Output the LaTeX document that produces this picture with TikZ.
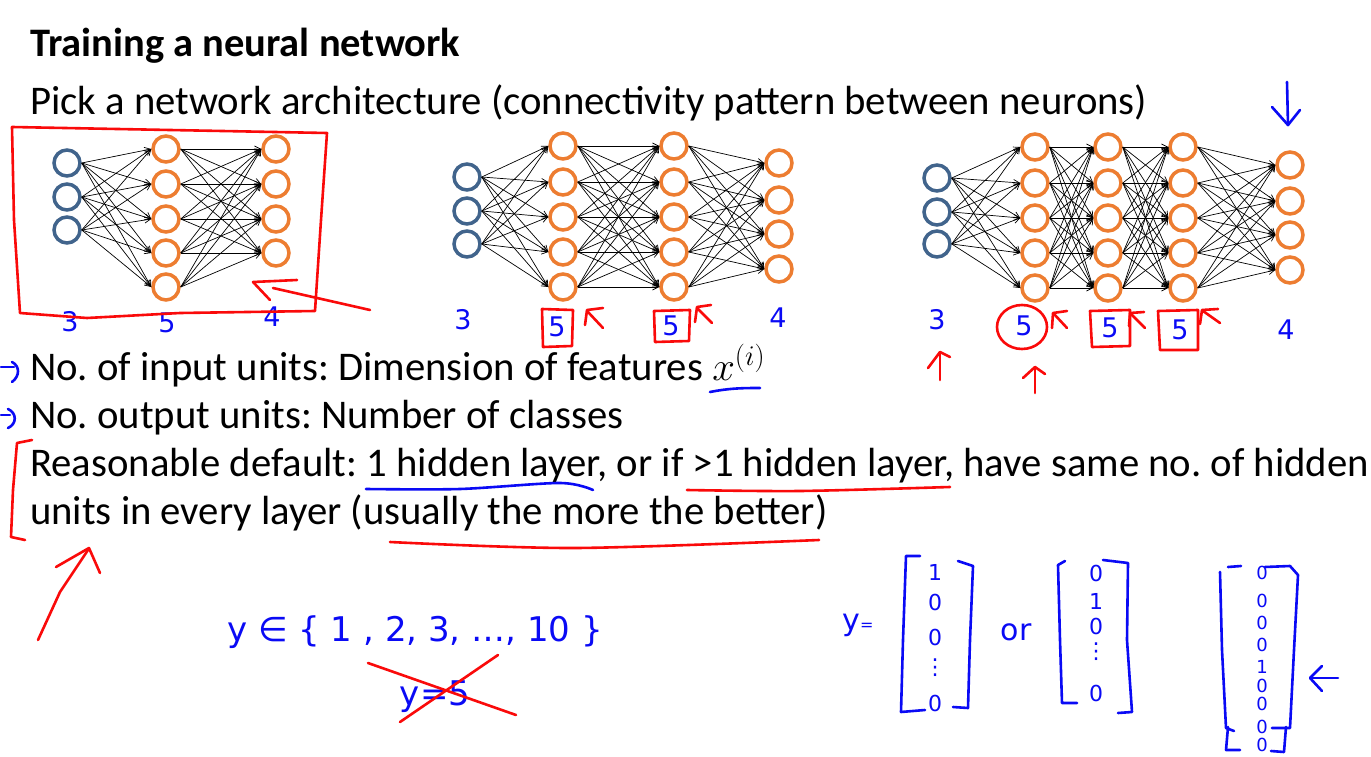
\RequirePackage{fix-cm}
\documentclass[tikz,border=0pt]{standalone}
\usepackage{fontspec}
\setmainfont{Carlito}
\newfontfamily\penfont{DejaVu Sans}
\usetikzlibrary{arrows.meta}
\definecolor{unitblue}{RGB}{65,100,140}
\definecolor{unitorange}{RGB}{237,125,49}
\definecolor{penblue}{RGB}{10,10,245}
\definecolor{penred}{RGB}{250,10,10}
\tikzset{
  % units of the networks
  inunit/.style    = {circle, draw=unitblue, line width=3.5pt, minimum size=26pt, inner sep=0pt},
  hidunit/.style   = {circle, draw=unitorange, line width=3.5pt, minimum size=26pt, inner sep=0pt},
  conn/.style      = {-{Straight Barb[length=6pt,width=6pt]}, line width=0.7pt, black},
  % slide text
  slidetitle/.style= {anchor=base west, inner sep=0pt, font=\fontsize{40.5}{48}\selectfont\bfseries},
  slidetext/.style = {anchor=base west, inner sep=0pt, font=\fontsize{40.7}{48}\selectfont\frenchspacing},
  % pen marks
  bluepen/.style   = {penblue, line width=2.6pt, line cap=round, line join=round},
  redpen/.style    = {penred, line width=2.6pt, line cap=round, line join=round},
  penlabel/.style  = {penblue, inner sep=0pt, font=\penfont\fontsize{27}{28}\selectfont},
  penentry/.style  = {penblue, inner sep=0pt, font=\penfont\fontsize{22}{22}\selectfont},
}
\newcommand\linklayers[4]{%
  \foreach \p in {1,...,#2}{\foreach \q in {1,...,#4}{\draw[conn] (#1\p.east) -- (#3\q.west);}}}

\begin{document}
\begin{tikzpicture}[x=1pt,y=-1pt]
  \useasboundingbox[fill=white] (0,0) rectangle (1371,757);
  % Titles
  \node[slidetitle] (title) at (30,57) {Training a neural network};
  \node[slidetext] (pick) at (30,115) {Pick a network architecture (connectivity pattern between neurons)};

  % Network 3-5-4
  \foreach \i/\y in {1/163,2/197,3/230} \node[inunit] (pa\i) at (67,\y) {};
  \foreach \i/\y in {1/149,2/184,3/219,4/253,5/287} \node[hidunit] (pb\i) at (166,\y) {};
  \foreach \i/\y in {1/149,2/184,3/219,4/253} \node[hidunit] (pc\i) at (276,\y) {};
  \linklayers{pa}{3}{pb}{5}
  \linklayers{pb}{5}{pc}{4}
  \node[penlabel] (pal) at (70,322) {3};
  \node[penlabel] (pbl) at (167,323) {5};
  \node[penlabel] (pcl) at (272,317) {4};

  % Network 3-5-5-4
  \foreach \i/\y in {1/177,2/211,3/244} \node[inunit] (qa\i) at (467,\y) {};
  \foreach \i/\y in {1/146,2/182,3/217,4/252,5/287} {
    \node[hidunit] (qb\i) at (563,\y) {};
    \node[hidunit] (qc\i) at (674,\y) {};
  }
  \foreach \i/\y in {1/163,2/200,3/234,4/269} \node[hidunit] (qd\i) at (779,\y) {};
  \linklayers{qa}{3}{qb}{5}
  \linklayers{qb}{5}{qc}{5}
  \linklayers{qc}{5}{qd}{4}
  \node[penlabel] (qal) at (463,320) {3};
  \node[penlabel] (qbl) at (557,327) {5};
  \node[penlabel] (qcl) at (671,326) {5};
  \node[penlabel] (qdl) at (778,318) {4};

  % Network 3-5-5-5-4
  \foreach \i/\y in {1/178,2/212,3/244} \node[inunit] (ra\i) at (937,\y) {};
  \foreach \i/\y in {1/147,2/183,3/218,4/253,5/288} {
    \node[hidunit] (rb\i) at (1035,\y) {};
    \node[hidunit] (rc\i) at (1108,\y) {};
    \node[hidunit] (rd\i) at (1183,\y) {};
  }
  \foreach \i/\y in {1/165,2/201,3/235,4/270} \node[hidunit] (re\i) at (1290,\y) {};
  \linklayers{ra}{3}{rb}{5}
  \linklayers{rb}{5}{rc}{5}
  \linklayers{rc}{5}{rd}{5}
  \linklayers{rd}{5}{re}{4}
  \node[penlabel] (ral) at (937,320) {3};
  \node[penlabel] (rbl) at (1024,326) {5};
  \node[penlabel] (rcl) at (1110,328) {5};
  \node[penlabel] (rdl) at (1180,330) {5};
  \node[penlabel] (rel) at (1286,330) {4};

  % Bullet lines
  \node[slidetext] (inunits) at (30,380) {No. of input units: Dimension of features $x^{(i)}$};
  \node[slidetext] (outunits) at (30,428) {No. output units: Number of classes};
  \node[slidetext] (default) at (30,476) {Reasonable default: 1 hidden layer, or if >1 hidden layer, have same no. of hidden};
  \node[slidetext] (defaulttwo) at (30,524) {units in every layer (usually the more the better)};

  % Red pen marks on the networks
  \draw[redpen] (12,127) -- (170,130) -- (327,133) -- (321,220) -- (315,311)
    -- (180,313) -- (87,318) -- (20,313) -- (14,220) -- cycle;
  \draw[redpen] (370,310) -- (273,288);
  \draw[redpen] (297,280) -- (253,282) -- (270,300);
  \draw[redpen] (542,309) -- (573,310) -- (572,346) -- (543,347) -- cycle;
  \draw[redpen] (603,328) -- (588,312);
  \draw[redpen] (585,325) -- (587,310) -- (603,308);
  \draw[redpen] (654,311) -- (690,310) -- (689,341) -- (655,342) -- cycle;
  \draw[redpen] (712,323) -- (697,308);
  \draw[redpen] (695,322) -- (697,307) -- (711,305);
  \draw[redpen] (1022,327) ellipse[x radius=25, y radius=22];
  \draw[redpen] (1067,328) -- (1054,314);
  \draw[redpen] (1052,328) -- (1053,313) -- (1067,311);
  \draw[redpen] (1090,311) -- (1130,310) -- (1130,346) -- (1092,347) -- cycle;
  \draw[redpen] (1145,328) -- (1131,314);
  \draw[redpen] (1129,326) -- (1130,313) -- (1144,312);
  \draw[redpen] (1158,311) -- (1198,310) -- (1198,350) -- (1160,350) -- cycle;
  \draw[redpen] (1220,323) -- (1203,311);
  \draw[redpen] (1200,324) -- (1202,310) -- (1218,309);
  \draw[redpen] (940,380) -- (940,353);
  \draw[redpen] (928,368) -- (940,352) -- (950,357);
  \draw[redpen] (1035,393) -- (1035,368);
  \draw[redpen] (1023,378) -- (1035,367) -- (1045,374);

  % Blue pen marks
  \draw[bluepen] (1287,82) -- (1288,125);
  \draw[bluepen] (1272,107) -- (1288,125) -- (1300,110);
  \draw[bluepen] (1,367) -- (14,367);
  \draw[bluepen] (12,362) .. controls (20,366) and (20,376) .. (12,382);
  \draw[bluepen] (1,415) -- (10,415);
  \draw[bluepen] (8,409) .. controls (17,413) and (17,424) .. (8,428);
  \draw[bluepen] (710,392) .. controls (730,388) and (745,388) .. (760,388);
  \draw[bluepen] plot[smooth] coordinates {(366,489) (460,489) (560,483) (593,490)};

  % Red underlines and bracket
  \draw[redpen] plot[smooth] coordinates {(687,490) (800,491) (950,487)};
  \draw[redpen] plot[smooth] coordinates {(390,542) (575,548) (819,540)};
  \draw[redpen] (32,440) -- (17,443) -- (13,490) -- (11,537) -- (25,540);
  \draw[redpen] (38,640) -- (60,592) -- (88,550);
  \draw[redpen] (56,567) -- (89,548) -- (100,573);

  % Labels y
  \node[penlabel, font=\penfont\fontsize{34}{36}\selectfont] (yset) at (415,632) {y ∈ \{ 1 , 2, 3, …, 10 \}};
  \node[penlabel, font=\penfont\fontsize{34}{36}\selectfont] (yfive) at (435,697) {y=5};
  \draw[redpen] (368,663) -- (516,715);
  \draw[redpen] (498,655) -- (400,722);

  % One-hot vectors
  \node[penlabel, font=\penfont\fontsize{30}{30}\selectfont] (yeq) at (858,625) {y{\fontsize{16}{16}\selectfont=}};
  \node[penlabel, font=\penfont\fontsize{30}{30}\selectfont] (orword) at (1016,632) {or};
  \foreach \i/\v/\y in {1/1/572,2/0/602,3/0/637,4/⋮/668,5/0/703}
    \node[penentry] (ma\i) at (935,\y) {\v};
  \foreach \i/\v/\y in {1/0/573,2/1/601,3/0/626,4/⋮/652,5/0/693}
    \node[penentry] (mb\i) at (1096,\y) {\v};
  \foreach \i/\v/\y in {1/0/573,2/0/601,3/0/623,4/0/645,5/1/667,6/0/686,7/0/704,8/0/727,9/0/745}
    \node[penentry, font=\penfont\fontsize{18}{18}\selectfont] (mc\i) at (1262,\y) {\v};
  \draw[bluepen] (920,556) -- (906,556) -- (903,640) -- (901,712) -- (925,710);
  \draw[bluepen] (958,561) -- (973,566) -- (970,640) -- (968,708) -- (953,707);
  \draw[bluepen] (1065,561) -- (1058,565) -- (1060,640) -- (1062,703) -- (1077,703);
  \draw[bluepen] (1103,560) -- (1128,563) -- (1127,640) -- (1132,712) -- (1118,713);
  \draw[bluepen] (1241,566) -- (1228,567);
  \draw[bluepen] (1220,572) -- (1222,650) -- (1226,728) -- (1234,731);
  \draw[bluepen] (1228,727) -- (1226,750) -- (1240,750);
  \draw[bluepen] (1265,567) -- (1290,566) -- (1298,575) -- (1294,650) -- (1290,728) -- (1272,728);
  \draw[bluepen] (1286,727) -- (1284,752) -- (1271,751);
  \draw[bluepen] (1338,678) -- (1311,678);
  \draw[bluepen] (1322,666) -- (1310,678) -- (1322,691);
\end{tikzpicture}
\end{document}
